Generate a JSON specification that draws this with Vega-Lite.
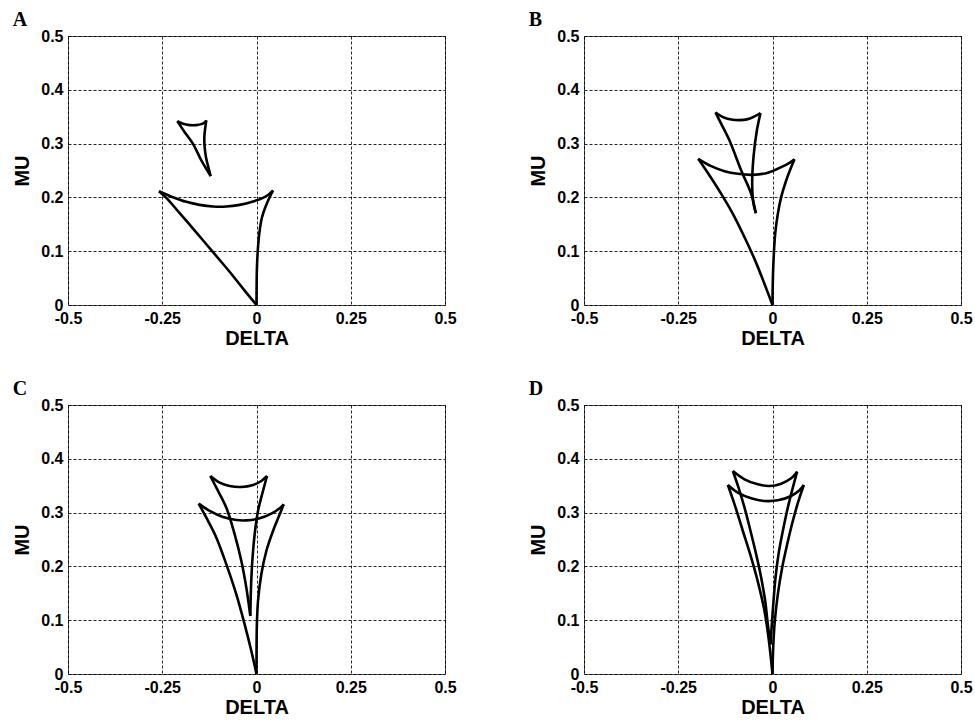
{
  "$schema": "https://vega.github.io/schema/vega-lite/v6.json",
  "background": "white",
  "padding": {"left": 12, "top": 9, "right": 5, "bottom": 2},
  "datasets": {
    "pts": [
      {"p":"A","c":"bl","i":0,"x":0,"y":0},{"p":"A","c":"bl","i":1,"x":-0.0314,"y":0.0267},{"p":"A","c":"bl","i":2,"x":-0.0623,"y":0.054},{"p":"A","c":"bl","i":3,"x":-0.0977,"y":0.0837},{"p":"A","c":"bl","i":4,"x":-0.1331,"y":0.1129},{"p":"A","c":"bl","i":5,"x":-0.1684,"y":0.1421},{"p":"A","c":"bl","i":6,"x":-0.2038,"y":0.1706},{"p":"A","c":"bl","i":7,"x":-0.2347,"y":0.196},{"p":"A","c":"bl","i":8,"x":-0.2586,"y":0.2115},
      {"p":"A","c":"bt","i":0,"x":-0.2586,"y":0.2115},{"p":"A","c":"bt","i":1,"x":-0.2215,"y":0.2004},{"p":"A","c":"bt","i":2,"x":-0.1861,"y":0.1917},{"p":"A","c":"bt","i":3,"x":-0.1508,"y":0.1861},{"p":"A","c":"bt","i":4,"x":-0.1154,"y":0.183},{"p":"A","c":"bt","i":5,"x":-0.08,"y":0.183},{"p":"A","c":"bt","i":6,"x":-0.0447,"y":0.1861},{"p":"A","c":"bt","i":7,"x":-0.0093,"y":0.1923},{"p":"A","c":"bt","i":8,"x":0.0172,"y":0.1991},{"p":"A","c":"bt","i":9,"x":0.0332,"y":0.206},{"p":"A","c":"bt","i":10,"x":0.0438,"y":0.2128},
      {"p":"A","c":"br","i":0,"x":0.0438,"y":0.2128},{"p":"A","c":"br","i":1,"x":0.0349,"y":0.2004},{"p":"A","c":"br","i":2,"x":0.0234,"y":0.1818},{"p":"A","c":"br","i":3,"x":0.0146,"y":0.1631},{"p":"A","c":"br","i":4,"x":0.0084,"y":0.1383},{"p":"A","c":"br","i":5,"x":0.004,"y":0.1073},{"p":"A","c":"br","i":6,"x":0.0012,"y":0.0701},{"p":"A","c":"br","i":7,"x":0.0003,"y":0.0329},{"p":"A","c":"br","i":8,"x":0,"y":0},
      {"p":"A","c":"sl","i":0,"x":-0.1216,"y":0.2395},{"p":"A","c":"sl","i":1,"x":-0.1463,"y":0.2686},{"p":"A","c":"sl","i":2,"x":-0.1684,"y":0.2996},{"p":"A","c":"sl","i":3,"x":-0.1905,"y":0.3213},{"p":"A","c":"sl","i":4,"x":-0.21,"y":0.3418},
      {"p":"A","c":"st","i":0,"x":-0.21,"y":0.3418},{"p":"A","c":"st","i":1,"x":-0.195,"y":0.3369},{"p":"A","c":"st","i":2,"x":-0.1773,"y":0.3344},{"p":"A","c":"st","i":3,"x":-0.1596,"y":0.3344},{"p":"A","c":"st","i":4,"x":-0.1463,"y":0.3362},{"p":"A","c":"st","i":5,"x":-0.1375,"y":0.3393},{"p":"A","c":"st","i":6,"x":-0.1331,"y":0.3431},
      {"p":"A","c":"sr","i":0,"x":-0.1331,"y":0.3431},{"p":"A","c":"sr","i":1,"x":-0.1357,"y":0.3306},{"p":"A","c":"sr","i":2,"x":-0.1384,"y":0.312},{"p":"A","c":"sr","i":3,"x":-0.1375,"y":0.2934},{"p":"A","c":"sr","i":4,"x":-0.134,"y":0.2748},{"p":"A","c":"sr","i":5,"x":-0.1278,"y":0.2562},{"p":"A","c":"sr","i":6,"x":-0.1216,"y":0.2395},

      {"p":"B","c":"ul","i":0,"x":-0.0442,"y":0.1706},{"p":"B","c":"ul","i":1,"x":-0.0565,"y":0.2066},{"p":"B","c":"ul","i":2,"x":-0.083,"y":0.25},{"p":"B","c":"ul","i":3,"x":-0.114,"y":0.3058},{"p":"B","c":"ul","i":4,"x":-0.136,"y":0.3368},{"p":"B","c":"ul","i":5,"x":-0.1511,"y":0.3579},
      {"p":"B","c":"ut","i":0,"x":-0.1511,"y":0.3579},{"p":"B","c":"ut","i":1,"x":-0.1316,"y":0.3493},{"p":"B","c":"ut","i":2,"x":-0.1095,"y":0.3449},{"p":"B","c":"ut","i":3,"x":-0.0875,"y":0.3437},{"p":"B","c":"ut","i":4,"x":-0.0654,"y":0.3455},{"p":"B","c":"ut","i":5,"x":-0.0477,"y":0.3505},{"p":"B","c":"ut","i":6,"x":-0.0318,"y":0.3567},
      {"p":"B","c":"ur","i":0,"x":-0.0318,"y":0.3567},{"p":"B","c":"ur","i":1,"x":-0.0415,"y":0.3244},{"p":"B","c":"ur","i":2,"x":-0.0504,"y":0.2748},{"p":"B","c":"ur","i":3,"x":-0.0539,"y":0.2252},{"p":"B","c":"ur","i":4,"x":-0.0504,"y":0.188},{"p":"B","c":"ur","i":5,"x":-0.0442,"y":0.1706},
      {"p":"B","c":"ll","i":0,"x":0,"y":0},{"p":"B","c":"ll","i":1,"x":-0.0212,"y":0.0391},{"p":"B","c":"ll","i":2,"x":-0.0459,"y":0.0825},{"p":"B","c":"ll","i":3,"x":-0.0742,"y":0.1259},{"p":"B","c":"ll","i":4,"x":-0.1051,"y":0.1694},{"p":"B","c":"ll","i":5,"x":-0.136,"y":0.2066},{"p":"B","c":"ll","i":6,"x":-0.167,"y":0.2407},{"p":"B","c":"ll","i":7,"x":-0.197,"y":0.2717},
      {"p":"B","c":"lt","i":0,"x":-0.197,"y":0.2717},{"p":"B","c":"lt","i":1,"x":-0.1625,"y":0.2581},{"p":"B","c":"lt","i":2,"x":-0.1272,"y":0.2488},{"p":"B","c":"lt","i":3,"x":-0.0919,"y":0.2438},{"p":"B","c":"lt","i":4,"x":-0.0521,"y":0.2419},{"p":"B","c":"lt","i":5,"x":-0.0124,"y":0.2457},{"p":"B","c":"lt","i":6,"x":0.023,"y":0.2562},{"p":"B","c":"lt","i":7,"x":0.0451,"y":0.2643},{"p":"B","c":"lt","i":8,"x":0.0583,"y":0.2711},
      {"p":"B","c":"lr","i":0,"x":0.0583,"y":0.2711},{"p":"B","c":"lr","i":1,"x":0.0495,"y":0.2562},{"p":"B","c":"lr","i":2,"x":0.0362,"y":0.2314},{"p":"B","c":"lr","i":3,"x":0.023,"y":0.2004},{"p":"B","c":"lr","i":4,"x":0.0141,"y":0.1694},{"p":"B","c":"lr","i":5,"x":0.0071,"y":0.1321},{"p":"B","c":"lr","i":6,"x":0.0027,"y":0.0825},{"p":"B","c":"lr","i":7,"x":0.0005,"y":0.0329},{"p":"B","c":"lr","i":8,"x":0,"y":0},

      {"p":"C","c":"ul","i":0,"x":-0.0164,"y":0.1078},{"p":"C","c":"ul","i":1,"x":-0.027,"y":0.1605},{"p":"C","c":"ul","i":2,"x":-0.0402,"y":0.21},{"p":"C","c":"ul","i":3,"x":-0.0579,"y":0.2596},{"p":"C","c":"ul","i":4,"x":-0.08,"y":0.3092},{"p":"C","c":"ul","i":5,"x":-0.1065,"y":0.3463},{"p":"C","c":"ul","i":6,"x":-0.1225,"y":0.368},
      {"p":"C","c":"ut","i":0,"x":-0.1225,"y":0.368},{"p":"C","c":"ut","i":1,"x":-0.0977,"y":0.3556},{"p":"C","c":"ut","i":2,"x":-0.0712,"y":0.3494},{"p":"C","c":"ut","i":3,"x":-0.0402,"y":0.3476},{"p":"C","c":"ut","i":4,"x":-0.0093,"y":0.3513},{"p":"C","c":"ut","i":5,"x":0.0128,"y":0.3588},{"p":"C","c":"ut","i":6,"x":0.0279,"y":0.368},
      {"p":"C","c":"ur","i":0,"x":0.0279,"y":0.368},{"p":"C","c":"ur","i":1,"x":0.0172,"y":0.3401},{"p":"C","c":"ur","i":2,"x":0.004,"y":0.303},{"p":"C","c":"ur","i":3,"x":-0.0049,"y":0.2596},{"p":"C","c":"ur","i":4,"x":-0.0111,"y":0.21},{"p":"C","c":"ur","i":5,"x":-0.0146,"y":0.1605},{"p":"C","c":"ur","i":6,"x":-0.0164,"y":0.1078},
      {"p":"C","c":"ll","i":0,"x":0,"y":0},{"p":"C","c":"ll","i":1,"x":-0.0137,"y":0.0428},{"p":"C","c":"ll","i":2,"x":-0.0314,"y":0.0923},{"p":"C","c":"ll","i":3,"x":-0.0535,"y":0.1481},{"p":"C","c":"ll","i":4,"x":-0.08,"y":0.2038},{"p":"C","c":"ll","i":5,"x":-0.1065,"y":0.2534},{"p":"C","c":"ll","i":6,"x":-0.1331,"y":0.2906},{"p":"C","c":"ll","i":7,"x":-0.1534,"y":0.3166},
      {"p":"C","c":"lt","i":0,"x":-0.1534,"y":0.3166},{"p":"C","c":"lt","i":1,"x":-0.1242,"y":0.303},{"p":"C","c":"lt","i":2,"x":-0.0889,"y":0.2918},{"p":"C","c":"lt","i":3,"x":-0.0535,"y":0.2862},{"p":"C","c":"lt","i":4,"x":-0.027,"y":0.2856},{"p":"C","c":"lt","i":5,"x":0.0084,"y":0.2893},{"p":"C","c":"lt","i":6,"x":0.0393,"y":0.298},{"p":"C","c":"lt","i":7,"x":0.0615,"y":0.3079},{"p":"C","c":"lt","i":8,"x":0.0721,"y":0.3154},
      {"p":"C","c":"lr","i":0,"x":0.0721,"y":0.3154},{"p":"C","c":"lr","i":1,"x":0.0615,"y":0.2968},{"p":"C","c":"lr","i":2,"x":0.0438,"y":0.2658},{"p":"C","c":"lr","i":3,"x":0.0261,"y":0.2286},{"p":"C","c":"lr","i":4,"x":0.0128,"y":0.1853},{"p":"C","c":"lr","i":5,"x":0.004,"y":0.1357},{"p":"C","c":"lr","i":6,"x":0.0008,"y":0.0861},{"p":"C","c":"lr","i":7,"x":0.0001,"y":0.0366},{"p":"C","c":"lr","i":8,"x":0,"y":0},

      {"p":"D","c":"ul","i":0,"x":-0.0053,"y":0.0551},{"p":"D","c":"ul","i":1,"x":-0.0124,"y":0.0923},{"p":"D","c":"ul","i":2,"x":-0.0194,"y":0.1357},{"p":"D","c":"ul","i":3,"x":-0.03,"y":0.1791},{"p":"D","c":"ul","i":4,"x":-0.0433,"y":0.2224},{"p":"D","c":"ul","i":5,"x":-0.0583,"y":0.2658},{"p":"D","c":"ul","i":6,"x":-0.0742,"y":0.3092},{"p":"D","c":"ul","i":7,"x":-0.0901,"y":0.3463},{"p":"D","c":"ul","i":8,"x":-0.1051,"y":0.3773},
      {"p":"D","c":"ut","i":0,"x":-0.1051,"y":0.3773},{"p":"D","c":"ut","i":1,"x":-0.0742,"y":0.3618},{"p":"D","c":"ut","i":2,"x":-0.0389,"y":0.3525},{"p":"D","c":"ut","i":3,"x":-0.008,"y":0.3494},{"p":"D","c":"ut","i":4,"x":0.023,"y":0.3538},{"p":"D","c":"ut","i":5,"x":0.0495,"y":0.3637},{"p":"D","c":"ut","i":6,"x":0.0654,"y":0.3761},
      {"p":"D","c":"ur","i":0,"x":0.0654,"y":0.3761},{"p":"D","c":"ur","i":1,"x":0.0539,"y":0.3463},{"p":"D","c":"ur","i":2,"x":0.0406,"y":0.3092},{"p":"D","c":"ur","i":3,"x":0.0274,"y":0.2658},{"p":"D","c":"ur","i":4,"x":0.0159,"y":0.2224},{"p":"D","c":"ur","i":5,"x":0.008,"y":0.1791},{"p":"D","c":"ur","i":6,"x":0.0027,"y":0.1357},{"p":"D","c":"ur","i":7,"x":-0.0018,"y":0.0923},{"p":"D","c":"ur","i":8,"x":-0.0053,"y":0.0551},
      {"p":"D","c":"ll","i":0,"x":0,"y":0},{"p":"D","c":"ll","i":1,"x":-0.0035,"y":0.0242},{"p":"D","c":"ll","i":2,"x":-0.0106,"y":0.0675},{"p":"D","c":"ll","i":3,"x":-0.0212,"y":0.1171},{"p":"D","c":"ll","i":4,"x":-0.0371,"y":0.1667},{"p":"D","c":"ll","i":5,"x":-0.0565,"y":0.2162},{"p":"D","c":"ll","i":6,"x":-0.0786,"y":0.2658},{"p":"D","c":"ll","i":7,"x":-0.1007,"y":0.3154},{"p":"D","c":"ll","i":8,"x":-0.1184,"y":0.3513},
      {"p":"D","c":"lt","i":0,"x":-0.1184,"y":0.3513},{"p":"D","c":"lt","i":1,"x":-0.0919,"y":0.3371},{"p":"D","c":"lt","i":2,"x":-0.0565,"y":0.3265},{"p":"D","c":"lt","i":3,"x":-0.0212,"y":0.3216},{"p":"D","c":"lt","i":4,"x":0.0141,"y":0.3228},{"p":"D","c":"lt","i":5,"x":0.0495,"y":0.3309},{"p":"D","c":"lt","i":6,"x":0.0716,"y":0.3414},{"p":"D","c":"lt","i":7,"x":0.083,"y":0.3513},
      {"p":"D","c":"lr","i":0,"x":0.083,"y":0.3513},{"p":"D","c":"lr","i":1,"x":0.0689,"y":0.3216},{"p":"D","c":"lr","i":2,"x":0.0539,"y":0.2844},{"p":"D","c":"lr","i":3,"x":0.0389,"y":0.241},{"p":"D","c":"lr","i":4,"x":0.0256,"y":0.1976},{"p":"D","c":"lr","i":5,"x":0.0141,"y":0.1481},{"p":"D","c":"lr","i":6,"x":0.0062,"y":0.0985},{"p":"D","c":"lr","i":7,"x":0.0018,"y":0.0489},{"p":"D","c":"lr","i":8,"x":0,"y":0}
    ]
  },
  "columns": 2,
  "spacing": {"row": 100, "column": 139},
  "bounds": "flush",
  "concat": [
    {
      "title": {"text": "A"},
      "width": 377, "height": 269,
      "data": {"name": "pts"},
      "transform": [{"filter": "datum.p === 'A'"}],
      "mark": {"type": "line", "interpolate": "catmull-rom", "color": "black", "strokeWidth": 2.6},
      "encoding": {
        "x": {"field": "x", "type": "quantitative", "scale": {"domain": [-0.5, 0.5]}, "axis": {"values": [-0.5, -0.25, 0, 0.25, 0.5], "title": "DELTA"}},
        "y": {"field": "y", "type": "quantitative", "scale": {"domain": [0, 0.5]}, "axis": {"values": [0, 0.1, 0.2, 0.3, 0.4, 0.5], "title": "MU"}},
        "detail": {"field": "c"},
        "order": {"field": "i", "type": "quantitative"}
      }
    },
    {
      "title": {"text": "B"},
      "width": 377, "height": 269,
      "data": {"name": "pts"},
      "transform": [{"filter": "datum.p === 'B'"}],
      "mark": {"type": "line", "interpolate": "catmull-rom", "color": "black", "strokeWidth": 2.6},
      "encoding": {
        "x": {"field": "x", "type": "quantitative", "scale": {"domain": [-0.5, 0.5]}, "axis": {"values": [-0.5, -0.25, 0, 0.25, 0.5], "title": "DELTA"}},
        "y": {"field": "y", "type": "quantitative", "scale": {"domain": [0, 0.5]}, "axis": {"values": [0, 0.1, 0.2, 0.3, 0.4, 0.5], "title": "MU"}},
        "detail": {"field": "c"},
        "order": {"field": "i", "type": "quantitative"}
      }
    },
    {
      "title": {"text": "C"},
      "width": 377, "height": 269,
      "data": {"name": "pts"},
      "transform": [{"filter": "datum.p === 'C'"}],
      "mark": {"type": "line", "interpolate": "catmull-rom", "color": "black", "strokeWidth": 2.6},
      "encoding": {
        "x": {"field": "x", "type": "quantitative", "scale": {"domain": [-0.5, 0.5]}, "axis": {"values": [-0.5, -0.25, 0, 0.25, 0.5], "title": "DELTA"}},
        "y": {"field": "y", "type": "quantitative", "scale": {"domain": [0, 0.5]}, "axis": {"values": [0, 0.1, 0.2, 0.3, 0.4, 0.5], "title": "MU"}},
        "detail": {"field": "c"},
        "order": {"field": "i", "type": "quantitative"}
      }
    },
    {
      "title": {"text": "D"},
      "width": 377, "height": 269,
      "data": {"name": "pts"},
      "transform": [{"filter": "datum.p === 'D'"}],
      "mark": {"type": "line", "interpolate": "catmull-rom", "color": "black", "strokeWidth": 2.6},
      "encoding": {
        "x": {"field": "x", "type": "quantitative", "scale": {"domain": [-0.5, 0.5]}, "axis": {"values": [-0.5, -0.25, 0, 0.25, 0.5], "title": "DELTA"}},
        "y": {"field": "y", "type": "quantitative", "scale": {"domain": [0, 0.5]}, "axis": {"values": [0, 0.1, 0.2, 0.3, 0.4, 0.5], "title": "MU"}},
        "detail": {"field": "c"},
        "order": {"field": "i", "type": "quantitative"}
      }
    }
  ],
  "config": {
    "view": {"stroke": "#555555", "strokeWidth": 1},
    "axis": {
      "domain": false,
      "ticks": false,
      "grid": true,
      "gridColor": "#000000",
      "gridOpacity": 0.85,
      "gridWidth": 1,
      "gridDash": [3, 2],
      "labelFont": "Liberation Sans",
      "labelFontWeight": "bold",
      "labelFontSize": 16,
      "labelColor": "#000000",
      "labelPadding": 5,
      "labelFlush": false,
      "labelOverlap": false,
      "labelExpr": "'' + datum.value",
      "titleFont": "Liberation Sans",
      "titleFontWeight": "bold",
      "titleFontSize": 20,
      "titleColor": "#000000"
    },
    "axisX": {"titlePadding": 2},
    "axisY": {"titlePadding": 8},
    "title": {
      "font": "Liberation Serif",
      "fontWeight": "bold",
      "fontSize": 20,
      "color": "#000000",
      "anchor": "start",
      "frame": "bounds",
      "offset": -2
    }
  }
}
